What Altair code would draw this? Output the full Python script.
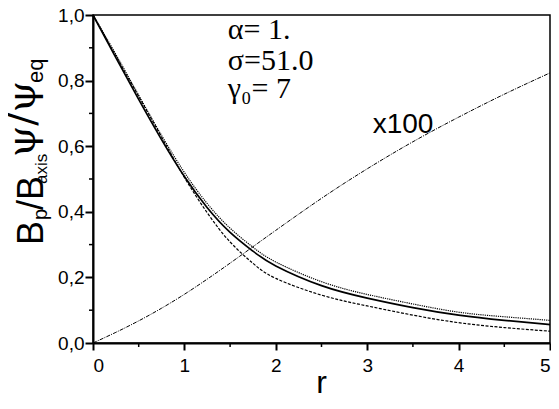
import altair as alt
import pandas as pd

# radius grid
r_vals = [0, 0.25, 0.5, 0.75, 1, 1.25, 1.5, 1.75, 2, 2.5, 3, 3.5, 4, 4.5, 5]
# curves
solid_vals = [1.0, 0.87, 0.7425, 0.62, 0.5075, 0.4125, 0.3375, 0.28, 0.235, 0.175, 0.137, 0.108, 0.085, 0.069, 0.056]
dotted_vals = [1.0, 0.88, 0.755, 0.633, 0.52, 0.425, 0.35, 0.292, 0.247, 0.187, 0.148, 0.119, 0.094, 0.08, 0.069]
dashed_vals = [1.0, 0.875, 0.752, 0.628, 0.505, 0.397, 0.308, 0.243, 0.197, 0.146, 0.113, 0.085, 0.062, 0.047, 0.036]
rising_vals = [0.0, 0.0325, 0.0675, 0.106, 0.1485, 0.1948, 0.2435, 0.2935, 0.3435, 0.441, 0.531, 0.6135, 0.6885, 0.7585, 0.8235]

x_major = [0, 1, 2, 3, 4, 5]
x_minor = [0.5, 1.5, 2.5, 3.5, 4.5]
y_major = [0.0, 0.2, 0.4, 0.6, 0.8, 1.0]
y_minor = [0.1, 0.3, 0.5, 0.7, 0.9]

param_texts = ["α= 1.", "σ=51.0", "γ₀= 7"]
param_r = [1.475, 1.475, 1.475]
param_y = [0.927, 0.833, 0.748]
label_text = ["x100"]
label_r = [3.06]
label_y = [0.641]
x_title = ["r"]
x_title_r = [2.5]

W, H = 457, 328

df = pd.DataFrame({"r": r_vals, "solid": solid_vals, "dotted": dotted_vals,
                   "dashed": dashed_vals, "rising": rising_vals})

xs = alt.Scale(domain=[0, 5], nice=False, zero=False)
ys = alt.Scale(domain=[0, 1], nice=False, zero=False)

ylab = "replace(format(datum.value, '.1f'), '.', ',')"
xlab = "format(datum.value, 'd')"

main = alt.Chart(df).mark_line(color="black", interpolate="natural", strokeWidth=1.7).encode(
    x=alt.X("r:Q", scale=xs, title=None,
            axis=alt.Axis(values=x_major, orient="bottom", title=None, labelExpr=xlab,
                          labelFontSize=19, labelFont="Liberation Sans",
                          tickSize=7, labelPadding=6, domainWidth=2,
                          tickWidth=2, domainColor="black", tickColor="black",
                          labelColor="black", grid=False)),
    y=alt.Y("solid:Q", scale=ys, title=None,
            axis=alt.Axis(values=y_major, orient="left", title=None,
                          labelExpr=ylab, labelFontSize=19,
                          labelFont="Liberation Sans", tickSize=8,
                          labelPadding=1, domainWidth=2, tickWidth=2,
                          domainColor="black", tickColor="black",
                          labelColor="black", grid=False)),
)

def plain_line(col, **kw):
    return alt.Chart(df).mark_line(color="black", interpolate="natural", **kw).encode(
        x=alt.X("r:Q", scale=xs, title=None),
        y=alt.Y(col + ":Q", scale=ys, title=None),
    )

dotted = plain_line("dotted", strokeWidth=1.2, strokeDash=[1.2, 1])
dashed = plain_line("dashed", strokeWidth=1.2, strokeDash=[3, 1.5])
rising = plain_line("rising", strokeWidth=1.0, strokeDash=[4, 1.2, 1, 1.2])

xm = pd.DataFrame({"v": x_minor})
ym = pd.DataFrame({"v": y_minor})
x_minor_ticks = alt.Chart(xm).mark_rule(color="black", strokeWidth=1.5).encode(
    x=alt.X("v:Q", scale=xs, title=None), y=alt.value(H), y2=alt.value(H + 4))
y_minor_ticks = alt.Chart(ym).mark_rule(color="black", strokeWidth=1.5).encode(
    y=alt.Y("v:Q", scale=ys, title=None), x=alt.value(-4), x2=alt.value(0))

pdf = pd.DataFrame({"t": param_texts, "r": param_r, "y": param_y})
params = alt.Chart(pdf).mark_text(align="left", baseline="alphabetic", fontSize=30,
                                  font="Liberation Serif", color="black").encode(
    x=alt.X("r:Q", scale=xs, title=None), y=alt.Y("y:Q", scale=ys, title=None), text="t:N")

ldf = pd.DataFrame({"t": label_text, "r": label_r, "y": label_y})
lab = alt.Chart(ldf).mark_text(align="left", baseline="alphabetic", fontSize=28,
                               font="Liberation Sans", color="black").encode(
    x=alt.X("r:Q", scale=xs, title=None), y=alt.Y("y:Q", scale=ys, title=None), text="t:N")

tdf = pd.DataFrame({"t": x_title, "r": x_title_r})
xtitle = alt.Chart(tdf).mark_text(align="center", baseline="alphabetic", fontSize=32,
                                  font="Liberation Sans", color="black").encode(
    x=alt.X("r:Q", scale=xs, title=None), y=alt.value(H + 50), text="t:N")

one = pd.DataFrame({"a": [0]})

def title_piece(txt, size, font, bx, sy):
    return alt.Chart(one).mark_text(text=txt, angle=270, align="left", baseline="alphabetic",
                                    fontSize=size, font=font, color="black").encode(
        x=alt.value(bx), y=alt.value(sy))

title_parts = [
    title_piece("B", 36, "Liberation Sans", -50, 230),
    title_piece("p", 20, "Liberation Sans", -46, 205),
    title_piece("/B", 36, "Liberation Sans", -50, 195),
    title_piece("axis", 17, "Liberation Sans", -46, 169),
    title_piece("ψ/ψ", 40, "DejaVu Serif", -58, 142),
    title_piece("eq", 22, "Liberation Sans", -50, 68),
]

chart = alt.layer(main, dotted, dashed, rising, x_minor_ticks, y_minor_ticks,
                  params, lab, xtitle, *title_parts).properties(
    width=W, height=H,
    background="white",
    autosize=alt.AutoSizeParams(type="none"),
    padding={"left": 85, "top": 7, "right": 1, "bottom": 53},
).configure_view(stroke="black", strokeWidth=1.5)

chart.save("out.html", embed_options={"renderer": "svg", "actions": False})
